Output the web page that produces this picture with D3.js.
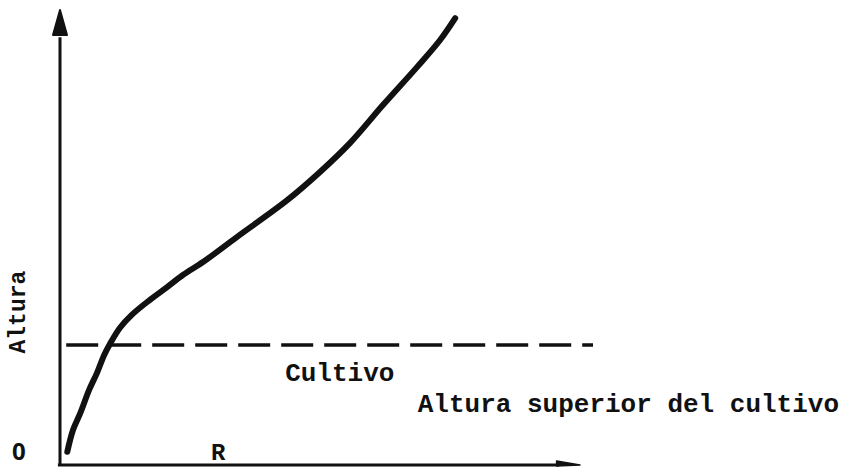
<!DOCTYPE html>
<html>
<head>
<meta charset="utf-8">
<script src="https://cdn.jsdelivr.net/npm/d3@7"></script>
<style>
  html, body { margin: 0; padding: 0; background: #fff; }
  svg { display: block; }
  text { font-family: "Liberation Mono", "DejaVu Sans Mono", monospace; font-weight: bold; fill: #111; }
</style>
</head>
<body>
<svg id="chart" width="843" height="467"></svg>
<script>
// Profile curve: horizontal quantity (R) vs. height, arbitrary units 0-100
const profileR      = [1.4, 2.5, 3.9, 5.6, 7.1, 8.5, 9.6, 11.5, 13.8, 17.3, 20.6, 23.7, 27.5, 34.0, 43.7, 50.0, 55.8, 62.1, 68.7, 73.1, 76.0];
const profileHeight = [2.9, 7.7, 11.4, 16.5, 20.2, 24.2, 26.6, 30.1, 33.0, 36.3, 39.1, 41.8, 44.6, 50.1, 58.2, 64.4, 70.8, 79.1, 87.5, 93.4, 98.2];

// Top of the crop canopy
const canopyHeight = 26.4;
const canopyExtent = [1.0, 102.5];

// Text labels
const yAxisTitle   = "Altura";
const originLabel  = "0";
const xAxisLabel   = "R";
const canopyLabel  = "Cultivo";
const canopyTopLabel = "Altura superior del cultivo";

const svg = d3.select("#chart");

const x = d3.scaleLinear().domain([0, 100]).range([60, 580]);
const y = d3.scaleLinear().domain([0, 100]).range([465, 10]);

// Axes with arrowheads
const axisG = svg.append("g");
axisG.append("line")
  .attr("x1", x(0)).attr("x2", x(0))
  .attr("y1", y(0)).attr("y2", y(94))
  .attr("stroke", "#111").attr("stroke-width", 3);
axisG.append("path")
  .attr("d", `M${x(0)},${y(100)} L${x(0) + 7},${y(94.5)} L${x(0) - 7},${y(94.5)} Z`)
  .attr("fill", "#111").attr("stroke", "#111").attr("stroke-width", 2).attr("stroke-linejoin", "round");

axisG.append("line")
  .attr("x1", x(-0.4)).attr("x2", x(96))
  .attr("y1", y(0)).attr("y2", y(0))
  .attr("stroke", "#111").attr("stroke-width", 3);
axisG.append("path")
  .attr("d", `M${x(100)},${y(0)} L${x(95.5)},${y(0) - 4} L${x(95.5)},${y(0) + 1} Z`)
  .attr("fill", "#111").attr("stroke", "#111").attr("stroke-width", 1.5).attr("stroke-linejoin", "round");

// Canopy top (dashed)
svg.append("line")
  .attr("x1", x(canopyExtent[0])).attr("x2", x(canopyExtent[1]))
  .attr("y1", y(canopyHeight)).attr("y2", y(canopyHeight))
  .attr("stroke", "#111").attr("stroke-width", 3.5)
  .attr("stroke-dasharray", "32,11")
  .attr("stroke-dashoffset", -1);

// Profile curve
const pts = profileR.map((r, i) => [r, profileHeight[i]]);
const line = d3.line()
  .x(d => x(d[0]))
  .y(d => y(d[1]))
  .curve(d3.curveCatmullRom.alpha(0.5));
svg.append("path")
  .datum(pts)
  .attr("d", line)
  .attr("fill", "none")
  .attr("stroke", "#111")
  .attr("stroke-width", 6)
  .attr("stroke-linecap", "round")
  .attr("stroke-linejoin", "round");

// Labels
svg.append("text")
  .attr("transform", `translate(${x(-6.8)},${y(33.6)}) rotate(-90)`)
  .attr("text-anchor", "middle")
  .style("font-size", "23px")
  .text(yAxisTitle);

svg.append("text")
  .attr("x", x(-7.9)).attr("y", y(1.1))
  .attr("text-anchor", "middle")
  .style("font-family", "'Noto Sans', sans-serif")
  .style("font-size", "24px")
  .text(originLabel);

svg.append("text")
  .attr("x", x(30.4)).attr("y", y(1.1))
  .attr("text-anchor", "middle")
  .style("font-size", "24px")
  .text(xAxisLabel);

svg.append("text")
  .attr("x", x(43.3)).attr("y", y(18.5))
  .style("font-size", "26px")
  .text(canopyLabel);

svg.append("text")
  .attr("x", x(68.8)).attr("y", y(11.6))
  .style("font-size", "26px")
  .text(canopyTopLabel);
</script>
</body>
</html>
